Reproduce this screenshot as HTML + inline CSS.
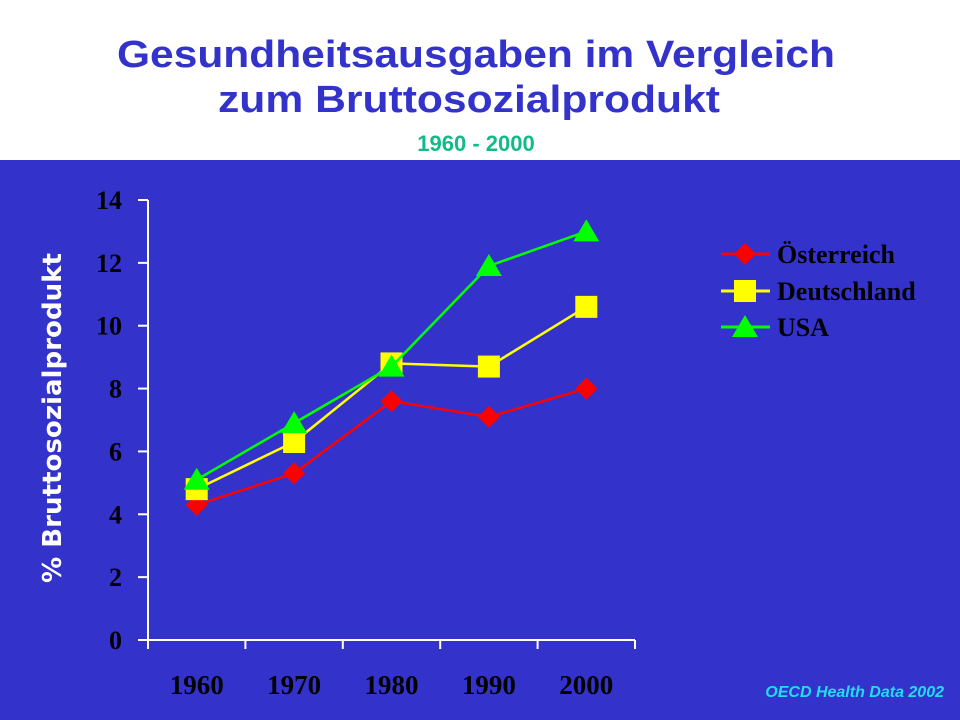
<!DOCTYPE html>
<html><head><meta charset="utf-8"><style>
html,body{margin:0;padding:0;background:#fff;}
svg{display:block;}
</style></head><body>
<svg id="chart" width="960" height="720" xmlns="http://www.w3.org/2000/svg">
<rect x="0" y="0" width="960" height="160" fill="#ffffff"/>
<rect x="0" y="160" width="960" height="560" fill="#3333CC"/>
<text x="476" y="67" text-anchor="middle" font-family="Liberation Sans, sans-serif" font-weight="bold" font-size="38" fill="#3333CC" textLength="718" lengthAdjust="spacingAndGlyphs">Gesundheitsausgaben im Vergleich</text>
<text x="469" y="112" text-anchor="middle" font-family="Liberation Sans, sans-serif" font-weight="bold" font-size="38" fill="#3333CC" textLength="502" lengthAdjust="spacingAndGlyphs">zum Bruttosozialprodukt</text>
<text x="476" y="151" text-anchor="middle" font-family="Liberation Sans, sans-serif" font-weight="bold" font-size="22" fill="#11BB88">1960 - 2000</text>
<text transform="translate(61,418) rotate(-90)" text-anchor="middle" font-family="DejaVu Sans, Liberation Sans, sans-serif" font-weight="bold" font-size="26" fill="#ffffff" textLength="330" lengthAdjust="spacingAndGlyphs">% Bruttosozialprodukt</text>
<text x="944" y="697" text-anchor="end" font-family="Liberation Sans, sans-serif" font-weight="bold" font-style="italic" font-size="16" fill="#22DDEE">OECD Health Data 2002</text>
<g id="axes"></g>
<g id="series"></g>
<g id="legend"></g>
</svg>
<script>
const categories = ["1960","1970","1980","1990","2000"];
const yTicks = [0,2,4,6,8,10,12,14];
const seriesNames = ["Österreich","Deutschland","USA"];
const austria = [4.3,5.3,7.6,7.1,8.0];
const germany = [4.8,6.3,8.8,8.7,10.6];
const usa = [5.1,6.9,8.7,11.9,13.0];

const NS="http://www.w3.org/2000/svg";
const X0=148,X1=635,Y0=640,Y1=200,YMAX=14;
function xPos(i){return X0+(X1-X0)/categories.length*(i+0.5);}
function yPos(v){return Y0-(Y0-Y1)*v/YMAX;}
function mk(tag,attrs,parent){const e=document.createElementNS(NS,tag);for(const k in attrs)e.setAttribute(k,attrs[k]);parent.appendChild(e);return e;}

const axes=document.getElementById('axes');
let yl=mk('line',{x1:X0,y1:Y1,x2:X0,y2:Y0,stroke:'#fff','stroke-width':2},axes);


let xl=mk('line',{x1:X0-10,y1:Y0,x2:X1,y2:Y0,stroke:'#fff','stroke-width':2},axes);


yTicks.forEach(v=>{
  const t=mk('line',{x1:X0-10,y1:yPos(v),x2:X0,y2:yPos(v),stroke:'#fff','stroke-width':2},axes);
  
  
  const l=mk('text',{x:122,y:yPos(v)+9,'text-anchor':'end','font-family':'Liberation Serif, serif','font-weight':'bold','font-size':26,fill:'#000'},axes);
  l.textContent=v;
  
  
});
for(let i=0;i<=categories.length;i++){
  const x=X0+(X1-X0)/categories.length*i;
  const t=mk('line',{x1:x,y1:Y0,x2:x,y2:Y0+9,stroke:'#fff','stroke-width':2},axes);
  
  
}
categories.forEach((c,i)=>{
  const l=mk('text',{x:xPos(i),y:694,'text-anchor':'middle','font-family':'Liberation Serif, serif','font-weight':'bold','font-size':27,fill:'#000'},axes);
  l.textContent=c;
  
  
});

function marker(shape,x,y,color,parent){
  let e;
  if(shape==='diamond') e=mk('polygon',{points:`${x},${y-11} ${x+11},${y} ${x},${y+11} ${x-11},${y}`,fill:color},parent);
  else if(shape==='square') e=mk('rect',{x:x-11,y:y-11,width:22,height:22,fill:color},parent);
  else e=mk('polygon',{points:`${x},${y-12} ${x+13},${y+10} ${x-13},${y+10}`,fill:color},parent);
  return e;
}
const seriesList=[[austria,'#FF0000','diamond','austria'],[germany,'#FFFF00','square','germany'],[usa,'#00FF00','triangle','usa']];
const sg=document.getElementById('series');
seriesList.forEach(([vals,col,shape,nm])=>{
  const pts=vals.map((v,i)=>xPos(i)+','+yPos(v)).join(' ');
  const pl=mk('polyline',{points:pts,fill:'none',stroke:col,'stroke-width':2.5},sg);
  
  
  vals.forEach((v,i)=>{
    const m=marker(shape,xPos(i),yPos(v),col,sg);
    
    
  });
});
const lg=document.getElementById('legend');
const legY=[254,291,327];
seriesList.forEach(([vals,col,shape,nm],k)=>{
  const y=legY[k];
  const ln=mk('line',{x1:721,y1:y,x2:770,y2:y,stroke:col,'stroke-width':3},lg);
  
  
  const m=marker(shape,745,y,col,lg);
  
  
  const t=mk('text',{x:777,y:y+9,'font-family':'Liberation Serif, serif','font-weight':'bold','font-size':26,fill:'#000'},lg);
  t.textContent=seriesNames[k];
  
  
});
</script>
</body></html>
